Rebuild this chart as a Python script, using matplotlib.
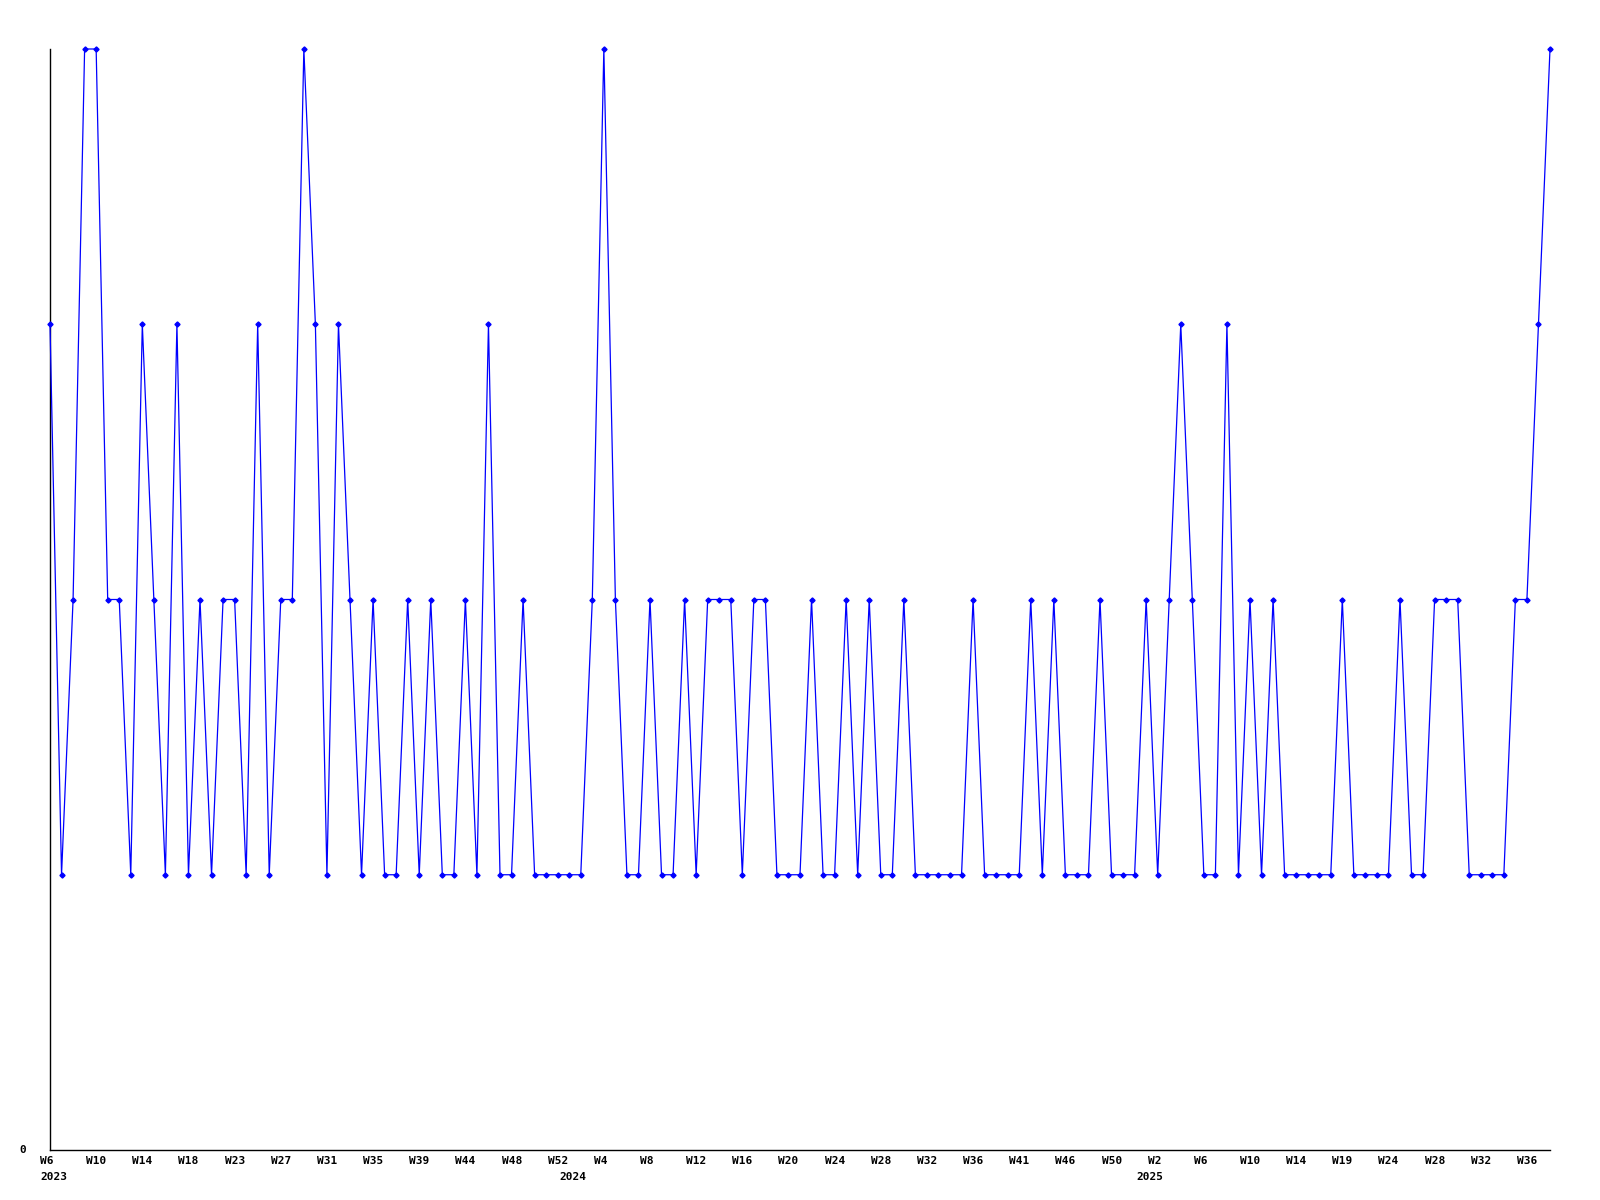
import matplotlib
matplotlib.use("Agg")
import matplotlib.pyplot as plt
import matplotlib.transforms as mtransforms

# weekly values (one per data point, in order)
values = [3, 1, 2, 4, 4, 2, 2, 1, 3, 2,
          1, 3, 1, 2, 1, 2, 2, 1, 3, 1,
          2, 2, 4, 3, 1, 3, 2, 1, 2, 1,
          1, 2, 1, 2, 1, 1, 2, 1, 3, 1,
          1, 2, 1, 1, 1, 1, 1, 2, 4, 2,
          1, 1, 2, 1, 1, 2, 1, 2, 2, 2,
          1, 2, 2, 1, 1, 1, 2, 1, 1, 2,
          1, 2, 1, 1, 2, 1, 1, 1, 1, 1,
          2, 1, 1, 1, 1, 2, 1, 2, 1, 1,
          1, 2, 1, 1, 1, 2, 1, 2, 3, 2,
          1, 1, 3, 1, 2, 1, 2, 1, 1, 1,
          1, 1, 2, 1, 1, 1, 1, 2, 1, 1,
          2, 2, 2, 1, 1, 1, 1, 2, 2, 3,
          4]

# week labels shown every 4th point
tick_step = 4
tick_labels = ["W6", "W10", "W14", "W18", "W23", "W27", "W31", "W35", "W39",
               "W44", "W48", "W52", "W4", "W8", "W12", "W16", "W20", "W24",
               "W28", "W32", "W36", "W41", "W46", "W50", "W2", "W6", "W10",
               "W14", "W19", "W24", "W28", "W32", "W36"]

# year labels at the first point of each year
year_positions = [0, 45, 95]
year_labels = ["2023", "2024", "2025"]

fig = plt.figure(figsize=(16, 12), dpi=100)
ax = fig.add_axes([50 / 1600, 50 / 1200, 1500 / 1600, 1101 / 1200])

x = list(range(len(values)))
ax.plot(x, values, color="#0000ff", linewidth=0.9, marker="D",
        markersize=2.6, markerfacecolor="#0000ff", markeredgecolor="#0000ff",
        clip_on=False, zorder=3)

ax.set_xlim(0, len(values) - 1)
ax.set_ylim(0, 4)

for s in ["top", "right"]:
    ax.spines[s].set_visible(False)
for s in ["left", "bottom"]:
    ax.spines[s].set_color("black")
    ax.spines[s].set_linewidth(1.0)

ax.set_xticks([])
ax.set_yticks([])

font = dict(family="DejaVu Sans Mono", fontweight="bold", fontsize=8,
            color="black")

base = ax.get_xaxis_transform()
off_w = mtransforms.ScaledTranslation(-10 / 100, -11.5 / 100, fig.dpi_scale_trans)
off_y = mtransforms.ScaledTranslation(-10 / 100, -27 / 100, fig.dpi_scale_trans)

for k, lab in enumerate(tick_labels):
    ax.text(k * tick_step, 0, lab, transform=base + off_w,
            ha="left", va="center", **font)

for pos, lab in zip(year_positions, year_labels):
    ax.text(pos, 0, lab, transform=base + off_y,
            ha="left", va="center", **font)

# y label "0"
off_0 = mtransforms.ScaledTranslation(-24 / 100, 0, fig.dpi_scale_trans)
ax.text(0, 0, "0", transform=ax.get_yaxis_transform() + off_0,
        ha="right", va="center", **font)

fig.savefig("out.png", dpi=100, facecolor="white")
